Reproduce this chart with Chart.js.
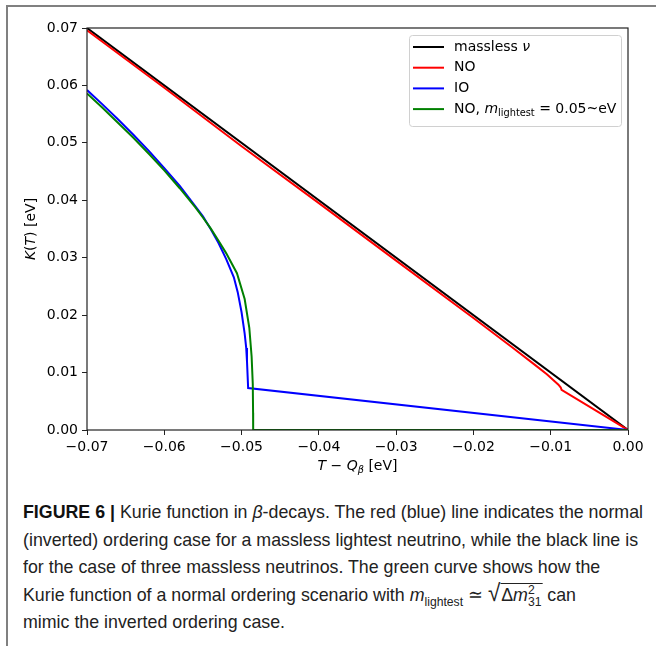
<!DOCTYPE html>
<html>
<head>
<meta charset="utf-8">
<script src="https://cdn.jsdelivr.net/npm/chart.js@4.4.1/dist/chart.umd.min.js"></script>
<style>
  body { margin: 0; background: #fff; width: 656px; height: 646px; position: relative; overflow: hidden; }
  #frame { position: absolute; left: 6px; top: 5px; right: -4px; bottom: -4px; border-left: 2px solid #808080; border-top: 2px solid #808080; }
  #wrap { position: absolute; left: 0; top: 0; width: 656px; height: 490px; }
  #caption { position: absolute; left: 23px; top: 498px; font-family: "Liberation Sans", Arial, sans-serif; font-size: 19px; color: #222; white-space: nowrap; transform-origin: 0 0; }
  #caption > div { height: 27.5px; line-height: 27.5px; }
  #caption b { font-weight: bold; color: #111; }
  .rad { border-top: 1px solid #222; padding: 0 1px; }
  .stack { display: inline-flex; flex-direction: column; font-size: 13px; line-height: 12px; vertical-align: 7px; }
</style>
</head>
<body>
<div id="frame"></div>
<div id="wrap"><canvas id="kurie" width="656" height="490"></canvas></div>
<div id="caption">
  <div><b>FIGURE 6 |</b> Kurie function in <i>β</i>-decays. The red (blue) line indicates the normal</div>
  <div>(inverted) ordering case for a massless lightest neutrino, while the black line is</div>
  <div>for the case of three massless neutrinos. The green curve shows how the</div>
  <div>Kurie function of a normal ordering scenario with <i>m</i><sub style="font-size:13px;line-height:0">lightest</sub> ≃ <span style="font-size:24px;line-height:0">√</span><span class="rad">Δ<i>m</i><span class="stack"><span>2</span><span>31</span></span></span> can</div>
  <div>mimic the inverted ordering case.</div>
</div>
<script>
// values (x = T - Q_beta in eV, y = K(T) in eV)
const blackX = [-0.07, 0.0];
const blackY = [0.07, 0.0];

const redX = [-0.07, -0.06, -0.05, -0.04, -0.03, -0.02, -0.015, -0.012, -0.0105, -0.0095, -0.009, -0.0087, -0.0086, 0.0];
const redY = [0.0696, 0.0596, 0.0494, 0.0395, 0.0295, 0.0195, 0.0144, 0.0113, 0.0097, 0.0085, 0.0079, 0.0074, 0.0070, 0.0];

const blueX = [-0.07, -0.068, -0.066, -0.064, -0.062, -0.06, -0.058, -0.056, -0.055, -0.054, -0.053, -0.052, -0.051, -0.0505, -0.05, -0.0496, -0.0494, -0.0493, -0.04915, 0.0];
const blueY = [0.0592, 0.0567, 0.0541, 0.0514, 0.0486, 0.0456, 0.0425, 0.0390, 0.0372, 0.0350, 0.0326, 0.0298, 0.0266, 0.0240, 0.0205, 0.0168, 0.0143, 0.0120, 0.0073, 0.0];

const greenX = [-0.07, -0.068, -0.066, -0.064, -0.062, -0.06, -0.058, -0.056, -0.055, -0.054, -0.053, -0.052, -0.0506, -0.0496, -0.049, -0.0487, -0.04855, -0.04851, -0.0485, 0.0];
const greenY = [0.0586, 0.0561, 0.0535, 0.0509, 0.0481, 0.0452, 0.0421, 0.0388, 0.0370, 0.0351, 0.0330, 0.0308, 0.0273, 0.0228, 0.0178, 0.0128, 0.0080, 0.0030, 0.0, 0.0];

const xTicks = [-0.07, -0.06, -0.05, -0.04, -0.03, -0.02, -0.01, 0.0];
const yTicks = [0.0, 0.01, 0.02, 0.03, 0.04, 0.05, 0.06, 0.07];

// legend labels as rich-text pieces (i = italic, sub = subscript)
const legendLabels = [
  [{ t: 'massless ' }, { t: 'ν', i: true }],
  [{ t: 'NO' }],
  [{ t: 'IO' }],
  [{ t: 'NO, ' }, { t: 'm', i: true }, { t: 'lightest', sub: true }, { t: ' = 0.05~eV' }]
];
const xTitle = [{ t: 'T', i: true }, { t: ' − ' }, { t: 'Q', i: true }, { t: 'β', i: true, sub: true }, { t: ' [eV]' }];
const yTitle = [{ t: 'K', i: true }, { t: '(' }, { t: 'T', i: true }, { t: ')' }, { t: ' [eV]' }];

const FONT = '"DejaVu Sans", sans-serif';
const SIZE = 14;

function pts(xs, ys) {
  return xs.map((x, k) => ({ x: x, y: ys[k] }));
}

function fmt(v) {
  if (Math.abs(v) < 1e-9) return '0.00';
  return v.toFixed(2).replace('-', '\u2212');
}

function partFont(p, size) {
  let s = p.sub ? size * 0.7 : size;
  return (p.i ? 'italic ' : '') + s + 'px ' + FONT;
}

function richWidth(ctx, parts, size) {
  let w = 0;
  parts.forEach(p => { ctx.font = partFont(p, size); w += ctx.measureText(p.t).width; });
  return w;
}

function drawRich(ctx, parts, x, y, size, align) {
  let w = richWidth(ctx, parts, size);
  let cx = align === 'center' ? x - w / 2 : x;
  ctx.textBaseline = 'middle';
  ctx.textAlign = 'left';
  parts.forEach(p => {
    ctx.font = partFont(p, size);
    ctx.fillText(p.t, cx, p.sub ? y + size * 0.3 : y);
    cx += ctx.measureText(p.t).width;
  });
}

const extras = {
  id: 'extras',
  afterDatasetsDraw(chart) {
    const ctx = chart.ctx;
    const a = chart.chartArea;
    ctx.save();
    // spines
    ctx.strokeStyle = '#222';
    ctx.lineWidth = 1.2;
    ctx.strokeRect(a.left, a.top, a.right - a.left, a.bottom - a.top);

    // legend
    const bw = 212, bh = 91;
    const bx = a.right - 7 - bw, by = a.top + 7;
    ctx.fillStyle = 'rgba(255,255,255,0.8)';
    ctx.strokeStyle = '#d0d0d0';
    ctx.lineWidth = 1;
    ctx.beginPath();
    ctx.roundRect(bx + 0.5, by + 0.5, bw, bh, 3);
    ctx.fill();
    ctx.stroke();
    chart.data.datasets.forEach((ds, k) => {
      const ry = by + 12 + k * 20.7;
      ctx.strokeStyle = ds.borderColor;
      ctx.lineWidth = 2;
      ctx.beginPath();
      ctx.moveTo(bx + 4, ry);
      ctx.lineTo(bx + 35, ry);
      ctx.stroke();
      ctx.fillStyle = '#000';
      drawRich(ctx, legendLabels[k], bx + 45, ry, SIZE, 'left');
    });

    // axis titles
    ctx.fillStyle = '#000';
    drawRich(ctx, xTitle, (a.left + a.right) / 2, a.bottom + 36, SIZE, 'center');
    ctx.translate(31, (a.top + a.bottom) / 2);
    ctx.rotate(-Math.PI / 2);
    drawRich(ctx, yTitle, 0, 0, SIZE, 'center');
    ctx.restore();
  }
};

const ctx = document.getElementById('kurie').getContext('2d');
const chart = new Chart(ctx, {
  type: 'line',
  data: {
    datasets: [
      { label: 'massless', data: pts(blackX, blackY), borderColor: '#000000', order: 4 },
      { label: 'NO', data: pts(redX, redY), borderColor: '#ff0000', order: 3 },
      { label: 'IO', data: pts(blueX, blueY), borderColor: '#0000ff', order: 2 },
      { label: 'NO, m = 0.05 eV', data: pts(greenX, greenY), borderColor: '#008000', order: 1 }
    ]
  },
  options: {
    responsive: false,
    animation: false,
    devicePixelRatio: 1,
    layout: { padding: { left: 0, top: 28, right: 28, bottom: 0 } },
    elements: {
      line: { borderWidth: 2, tension: 0, fill: false },
      point: { radius: 0, hoverRadius: 0 }
    },
    scales: {
      x: {
        type: 'linear',
        min: xTicks[0],
        max: xTicks[xTicks.length - 1],
        afterFit: s => { s.height = 60; },
        afterBuildTicks: s => { s.ticks = xTicks.map(v => ({ value: v })); },
        border: { display: false },
        grid: { drawOnChartArea: false, drawTicks: true, tickLength: 5, color: '#222' },
        ticks: { font: { family: FONT, size: SIZE }, color: '#000', padding: 4, maxRotation: 0, callback: v => fmt(v) }
      },
      y: {
        type: 'linear',
        min: yTicks[0],
        max: yTicks[yTicks.length - 1],
        afterFit: s => { s.width = 87; },
        afterBuildTicks: s => { s.ticks = yTicks.map(v => ({ value: v })); },
        border: { display: false },
        grid: { drawOnChartArea: false, drawTicks: true, tickLength: 5, color: '#222' },
        ticks: { font: { family: FONT, size: SIZE }, color: '#000', padding: 4, callback: v => fmt(v) }
      }
    },
    plugins: {
      legend: { display: false },
      tooltip: { enabled: false }
    }
  },
  plugins: [extras]
});

// squeeze caption to the reference line width
const cap = document.getElementById('caption');
const first = cap.firstElementChild;
const r = document.createRange();
r.selectNodeContents(first);
const natural = r.getBoundingClientRect().width;
cap.style.transform = 'scaleX(' + (620 / natural) + ')';
</script>
</body>
</html>
